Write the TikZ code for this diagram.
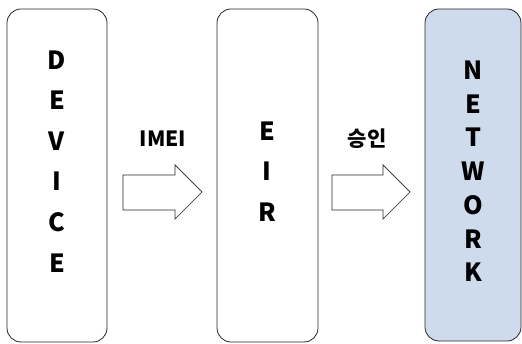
\documentclass[tikz,border=0pt]{standalone}
\usepackage{fontspec}
\setmainfont{Noto Sans CJK KR}
\definecolor{netfill}{RGB}{206,219,236}
\definecolor{edge}{RGB}{40,40,40}
\tikzset{
  panel/.style={draw=edge, line width=0.8pt, rounded corners=14pt},
  letters/.style={font=\bfseries\fontsize{25}{25}\selectfont, anchor=center},
  blockarrow/.style={draw=edge, line width=0.7pt, fill=white},
  lbl/.style={font=\bfseries\fontsize{21}{21}\selectfont}
}
\begin{document}
\begin{tikzpicture}[x=1pt,y=-1pt]
\useasboundingbox (0,0) rectangle (522,344);
% panels
\draw[panel] (7,9) rectangle (107,342);
\draw[panel] (217,9) rectangle (318,342);
\draw[panel, fill=netfill] (425,9) rectangle (521,341);
% DEVICE
\foreach \ch/\y [count=\i] in {D/60,E/100.5,V/141,I/181.5,C/222,E/263}
  \node[letters] (dev\i) at (57,\y) {\ch};
% EIR
\foreach \ch/\y [count=\i] in {E/131,I/171.5,R/212}
  \node[letters] (eir\i) at (267,\y) {\ch};
% NETWORK
\foreach \ch/\y [count=\i] in {N/70,E/104,T/137.5,W/171,O/205,R/239,K/272.5}
  \node[letters] (net\i) at (473,\y) {\ch};
% arrows
\draw[blockarrow] (123,175) -- (175,175) -- (175,165) -- (202,192) -- (175,219) -- (175,210) -- (123,210) -- cycle;
\draw[blockarrow] (332,175) -- (383,175) -- (383,165) -- (410,192) -- (383,219) -- (383,210) -- (332,210) -- cycle;
\node[lbl] (imei) at (163,139) {IMEI};
\node[lbl] (ok) at (367,139) {승인};
\end{tikzpicture}
\end{document}
